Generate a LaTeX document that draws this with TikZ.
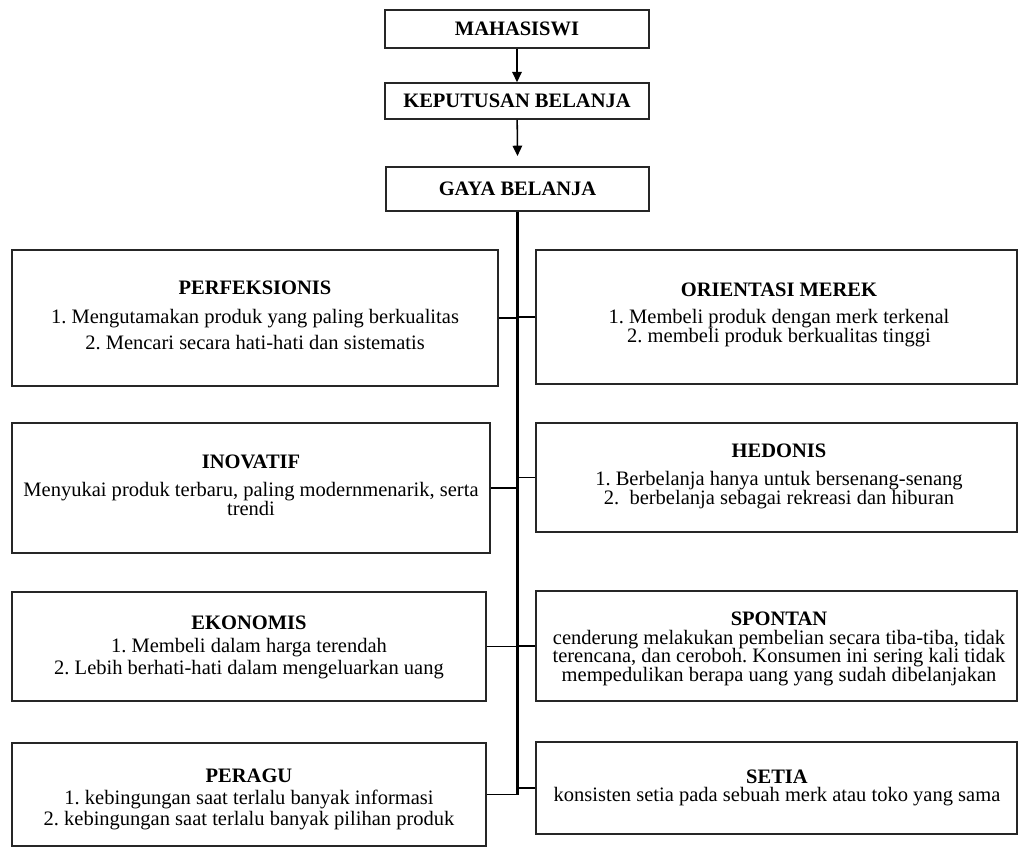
\documentclass[tikz,border=0pt]{standalone}
\usepackage{fontspec}
\setmainfont{Liberation Serif}
\usetikzlibrary{fit,arrows.meta}

\newcommand{\rapat}{\fontsize{12}{11}\selectfont\lineskiplimit=-20pt\frenchspacing\relax}

\tikzset{
  kotak/.style={draw=black!85, line width=0.9pt, inner sep=0pt},
  isi/.style={align=center, inner sep=0pt, font=\rapat},
  garis/.style={line width=0.9pt},
  batang/.style={line width=1.3pt},
  panah/.style={line width=0.9pt, -{Triangle[length=6pt,width=5.5pt]}}
}

\begin{document}
\begin{tikzpicture}[x=0.585pt,y=-0.585pt]
\useasboundingbox (0,0) rectangle (1019,848);

\node[kotak, fit={(385,10) (649,48)}] (mah) {};
\node[kotak, fit={(385,83) (649,119)}] (kep) {};
\node[kotak, fit={(386,167) (649,211)}] (gaya) {};
\node[isi] (mah-isi) at (mah.center) {\textbf{MAHASISWI}};
\node[isi] (kep-isi) at (kep.center) {\textbf{KEPUTUSAN BELANJA}};
\node[isi] (gaya-isi) at (gaya.center) {\textbf{GAYA BELANJA}};

\node[kotak, fit={(12,250) (498,386)}] (perf) {};
\node[kotak, fit={(536,250) (1017,384)}] (merek) {};
\node[kotak, fit={(12,423) (490,553)}] (inov) {};
\node[kotak, fit={(536,423) (1017,532)}] (hedon) {};
\node[kotak, fit={(12,592) (486,701)}] (ekon) {};
\node[kotak, fit={(536,591) (1017,701)}] (spontan) {};
\node[kotak, fit={(12,743) (486,846)}] (ragu) {};
\node[kotak, fit={(536,742) (1017,834)}] (setia) {};

\node[isi] (perf-isi) at (255,315) {\textbf{PERFEKSIONIS}\\[6pt]
  1. Mengutamakan produk yang paling berkualitas\\[4pt]
  2. Mencari secara hati-hati dan sistematis};
\node[isi] (merek-isi) at (779,315) {\textbf{ORIENTASI MEREK}\\[4.8pt]
  1. Membeli produk dengan merk terkenal\\
  2. membeli produk berkualitas tinggi};
\node[isi] (inov-isi) at (251,485) {\textbf{INOVATIF}\\[5.4pt]
  Menyukai produk terbaru, paling modernmenarik, serta\\
  trendi};
\node[isi] (hedon-isi) at (779,476) {\textbf{HEDONIS}\\[5.4pt]
  1. Berbelanja hanya untuk bersenang-senang\\
  2.\ \ berbelanja sebagai rekreasi dan hiburan};
\node[isi] (ekon-isi) at (249,647) {\textbf{EKONOMIS}\\[2.5pt]
  1. Membeli dalam harga terendah\\[1.9pt]
  2. Lebih berhati-hati dalam mengeluarkan uang};
\node[isi] (spontan-isi) at (779,649) {\textbf{SPONTAN}\\
  cenderung melakukan pembelian secara tiba-tiba, tidak\\
  terencana, dan ceroboh. Konsumen ini sering kali tidak\\
  mempedulikan berapa uang yang sudah dibelanjakan};
\node[isi] (ragu-isi) at (249,799) {\textbf{PERAGU}\\[1.9pt]
  1. kebingungan saat terlalu banyak informasi\\[1.3pt]
  2. kebingungan saat terlalu banyak pilihan produk};
\node[isi] (setia-isi) at (777,788) {\textbf{SETIA}\\
  konsisten setia pada sebuah merk atau toko yang sama};

\coordinate (ujung) at ([yshift=6pt]gaya.north);
\draw[panah] (mah) -- (kep);
\draw[panah] (kep) -- (ujung);

\draw[batang] (gaya.south) -- (gaya.south |- ragu.east);
\draw[garis] (perf.east) -- (perf.east -| gaya.south);
\draw[garis] (merek.west) -- (merek.west -| gaya.south);
\draw[garis] (inov.east) -- (inov.east -| gaya.south);
\draw[garis] (hedon.west) -- (hedon.west -| gaya.south);
\draw[garis] (ekon.east) -- (ekon.east -| gaya.south);
\draw[garis] (spontan.west) -- (spontan.west -| gaya.south);
\draw[garis] (ragu.east) -- (ragu.east -| gaya.south);
\draw[garis] (setia.west) -- (setia.west -| gaya.south);
\end{tikzpicture}
\end{document}
